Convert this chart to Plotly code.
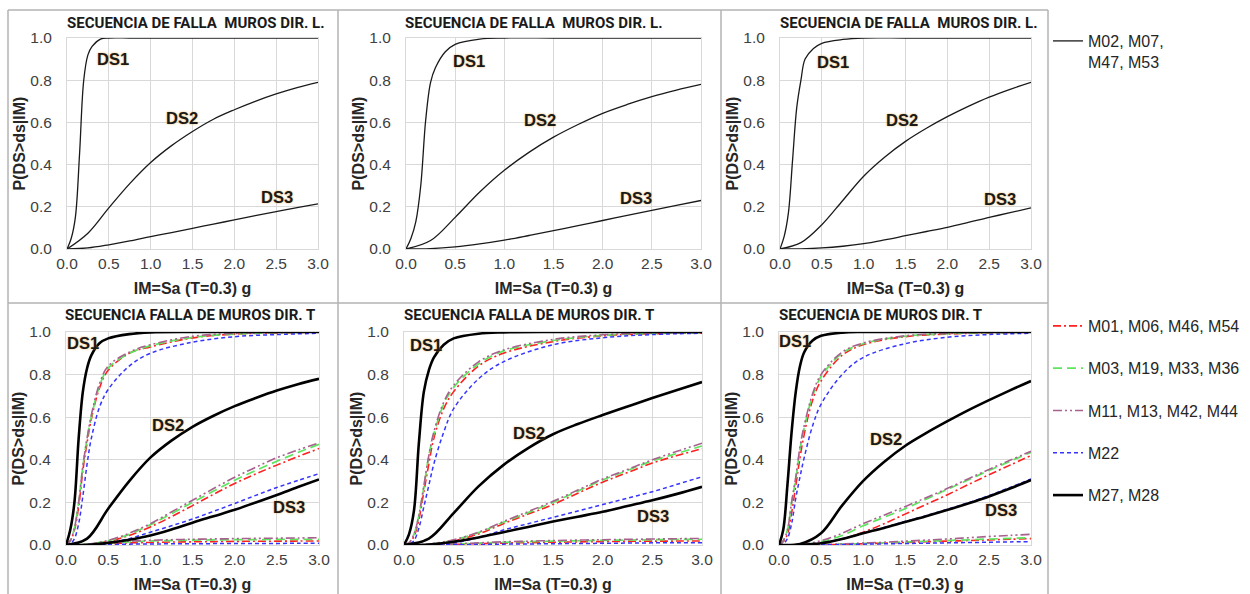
import plotly.graph_objects as go

W, H = 1250, 594

# ---------------- data ----------------
X_DS1 = [0, 0.05, 0.1, 0.15, 0.2, 0.25, 0.3, 0.4, 0.5, 0.75, 1.0, 1.5, 2.0, 2.5, 3.0]
X_DS = [0, 0.25, 0.5, 0.75, 1.0, 1.25, 1.5, 1.75, 2.0, 2.25, 2.5, 2.75, 3.0]
X_TICKS = [0, 0.5, 1.0, 1.5, 2.0, 2.5, 3.0]
X_TICKTEXT = ["0.0", "0.5", "1.0", "1.5", "2.0", "2.5", "3.0"]
Y_TICKS = [0, 0.2, 0.4, 0.6, 0.8, 1.0]
Y_TICKTEXT = ["0.0", "0.2", "0.4", "0.6", "0.8", "1.0"]

TITLES = [
    "SECUENCIA DE FALLA\u00a0 MUROS DIR. L.",
    "SECUENCIA DE FALLA\u00a0 MUROS DIR. L.",
    "SECUENCIA DE FALLA\u00a0 MUROS DIR. L.",
    "SECUENCIA FALLA DE MUROS DIR. T",
    "SECUENCIA FALLA DE MUROS DIR. T",
    "SECUENCIA DE MUROS DIR. T",
]
DS_NAMES = ["DS1", "DS2", "DS3"]
X_TITLE = "IM=Sa (T=0.3) g"
Y_TITLE = "P(DS>ds|IM)"

TOP_SERIES = "M02, M07,<br>M47, M53"
BOTTOM_SERIES = ["M01, M06, M46, M54", "M03, M19, M33, M36",
                 "M11, M13, M42, M44", "M22", "M27, M28"]

# top row (direction L): [DS1 on X_DS1, DS2 on X_DS, DS3 on X_DS]
L1 = [[0, 0.05, 0.15, 0.45, 0.80, 0.92, 0.96, 0.995, 1, 1, 1, 1, 1, 1, 1],
      [0, 0.075, 0.195, 0.31, 0.41, 0.49, 0.557, 0.615, 0.66, 0.70, 0.735, 0.765, 0.79],
      [0, 0.005, 0.02, 0.038, 0.059, 0.078, 0.098, 0.118, 0.138, 0.158, 0.177, 0.196, 0.214]]
L2 = [[0, 0.05, 0.13, 0.30, 0.61, 0.79, 0.86, 0.935, 0.97, 0.995, 1, 1, 1, 1, 1],
      [0, 0.04, 0.15, 0.27, 0.373, 0.458, 0.53, 0.59, 0.643, 0.685, 0.722, 0.753, 0.78],
      [0, 0.002, 0.01, 0.024, 0.042, 0.064, 0.087, 0.111, 0.135, 0.159, 0.183, 0.207, 0.23]]
L3 = [[0, 0.06, 0.17, 0.42, 0.67, 0.80, 0.90, 0.95, 0.975, 0.993, 1, 1, 1, 1, 1],
      [0, 0.03, 0.115, 0.23, 0.345, 0.435, 0.51, 0.572, 0.627, 0.676, 0.72, 0.757, 0.79],
      [0, 0.001, 0.005, 0.013, 0.025, 0.043, 0.063, 0.083, 0.103, 0.126, 0.15, 0.172, 0.195]]

# bottom row (direction T): per series [upper on X_DS1, middle on X_DS, lower on X_DS]
T1_M01 = [[0, 0.02, 0.07, 0.18, 0.35, 0.48, 0.59, 0.74, 0.82, 0.90, 0.93, 0.972, 0.99, 0.996, 0.999],
          [0, 0.002, 0.017, 0.045, 0.085, 0.133, 0.185, 0.238, 0.289, 0.334, 0.375, 0.415, 0.453],
          [0, 0.001, 0.006, 0.01, 0.012, 0.014, 0.015, 0.016, 0.017, 0.0175, 0.018, 0.0185, 0.019]]
T1_M03 = [[0, 0.02, 0.08, 0.20, 0.37, 0.50, 0.60, 0.75, 0.83, 0.90, 0.935, 0.975, 0.99, 0.997, 1.0],
          [0, 0.003, 0.02, 0.05, 0.095, 0.147, 0.20, 0.253, 0.304, 0.35, 0.393, 0.434, 0.473],
          [0, 0.002, 0.009, 0.015, 0.019, 0.021, 0.023, 0.024, 0.025, 0.0255, 0.026, 0.0265, 0.027]]
T1_M11 = [[0, 0.02, 0.08, 0.20, 0.37, 0.50, 0.61, 0.76, 0.84, 0.905, 0.94, 0.98, 0.993, 0.998, 1.0],
          [0, 0.003, 0.022, 0.055, 0.10, 0.155, 0.21, 0.265, 0.318, 0.365, 0.41, 0.446, 0.48],
          [0, 0.002, 0.01, 0.018, 0.022, 0.025, 0.027, 0.0285, 0.03, 0.031, 0.032, 0.033, 0.034]]
T1_M22 = [[0, 0.005, 0.03, 0.10, 0.23, 0.38, 0.50, 0.65, 0.73, 0.84, 0.90, 0.952, 0.978, 0.988, 0.994],
          [0, 0.001, 0.01, 0.03, 0.06, 0.09, 0.122, 0.158, 0.195, 0.233, 0.27, 0.303, 0.335],
          [0, 0, 0.002, 0.004, 0.005, 0.0055, 0.006, 0.0065, 0.007, 0.0072, 0.0075, 0.0078, 0.008]]
T1_M27 = [[0, 0.07, 0.20, 0.50, 0.72, 0.83, 0.89, 0.948, 0.97, 0.99, 0.998, 1, 1, 1, 1],
          [0, 0.03, 0.17, 0.30, 0.41, 0.49, 0.555, 0.607, 0.652, 0.69, 0.725, 0.755, 0.78],
          [0, 0.001, 0.01, 0.025, 0.045, 0.073, 0.105, 0.135, 0.165, 0.20, 0.235, 0.272, 0.308]]

T2_M01 = [[0, 0.01, 0.04, 0.12, 0.25, 0.38, 0.50, 0.64, 0.72, 0.84, 0.90, 0.955, 0.982, 0.992, 0.996],
          [0, 0.002, 0.02, 0.052, 0.10, 0.145, 0.19, 0.243, 0.295, 0.34, 0.385, 0.42, 0.452],
          [0, 0.001, 0.003, 0.006, 0.009, 0.011, 0.013, 0.0145, 0.016, 0.017, 0.018, 0.0185, 0.019]]
T2_M03 = [[0, 0.01, 0.05, 0.14, 0.27, 0.42, 0.52, 0.66, 0.74, 0.85, 0.91, 0.96, 0.984, 0.993, 0.997],
          [0, 0.003, 0.023, 0.058, 0.107, 0.152, 0.20, 0.253, 0.305, 0.35, 0.395, 0.43, 0.465],
          [0, 0.001, 0.004, 0.009, 0.013, 0.016, 0.018, 0.02, 0.022, 0.0235, 0.025, 0.026, 0.027]]
T2_M11 = [[0, 0.01, 0.05, 0.14, 0.28, 0.42, 0.53, 0.67, 0.75, 0.86, 0.915, 0.965, 0.987, 0.995, 0.998],
          [0, 0.004, 0.025, 0.06, 0.11, 0.157, 0.205, 0.258, 0.31, 0.355, 0.40, 0.44, 0.478],
          [0, 0.001, 0.005, 0.01, 0.015, 0.018, 0.021, 0.023, 0.025, 0.0265, 0.028, 0.0295, 0.031]]
T2_M22 = [[0, 0.003, 0.02, 0.08, 0.18, 0.28, 0.38, 0.53, 0.64, 0.78, 0.86, 0.94, 0.973, 0.988, 0.994],
          [0, 0.001, 0.01, 0.035, 0.07, 0.10, 0.13, 0.16, 0.19, 0.22, 0.25, 0.285, 0.32],
          [0, 0, 0.001, 0.002, 0.004, 0.005, 0.006, 0.007, 0.008, 0.009, 0.01, 0.0105, 0.011]]
T2_M27 = [[0, 0.05, 0.16, 0.48, 0.72, 0.82, 0.88, 0.94, 0.97, 0.992, 0.998, 1, 1, 1, 1],
          [0, 0.03, 0.15, 0.275, 0.375, 0.455, 0.52, 0.568, 0.61, 0.65, 0.69, 0.728, 0.765],
          [0, 0.002, 0.015, 0.035, 0.06, 0.085, 0.11, 0.133, 0.156, 0.183, 0.21, 0.24, 0.273]]

T3_M01 = [[0, 0.015, 0.05, 0.15, 0.28, 0.41, 0.52, 0.68, 0.77, 0.89, 0.94, 0.978, 0.99, 0.996, 0.999],
          [0, 0.001, 0.008, 0.028, 0.06, 0.10, 0.145, 0.19, 0.235, 0.283, 0.33, 0.375, 0.42],
          [0, 0, 0.001, 0.003, 0.006, 0.009, 0.012, 0.015, 0.018, 0.021, 0.024, 0.027, 0.03]]
T3_M03 = [[0, 0.02, 0.07, 0.20, 0.31, 0.45, 0.55, 0.70, 0.79, 0.90, 0.945, 0.98, 0.992, 0.997, 0.999],
          [0, 0.002, 0.015, 0.045, 0.09, 0.13, 0.17, 0.215, 0.26, 0.305, 0.35, 0.393, 0.435],
          [0, 0, 0.002, 0.004, 0.007, 0.01, 0.014, 0.0175, 0.021, 0.0245, 0.028, 0.031, 0.034]]
T3_M11 = [[0, 0.02, 0.07, 0.20, 0.32, 0.46, 0.56, 0.71, 0.80, 0.905, 0.948, 0.982, 0.993, 0.998, 1.0],
          [0, 0.003, 0.02, 0.055, 0.10, 0.14, 0.18, 0.222, 0.265, 0.31, 0.355, 0.398, 0.44],
          [0, 0, 0.002, 0.005, 0.009, 0.013, 0.018, 0.023, 0.028, 0.034, 0.04, 0.045, 0.05]]
T3_M22 = [[0, 0.005, 0.03, 0.10, 0.22, 0.32, 0.41, 0.56, 0.66, 0.80, 0.88, 0.945, 0.975, 0.988, 0.994],
          [0, 0.001, 0.009, 0.029, 0.056, 0.082, 0.11, 0.138, 0.167, 0.198, 0.232, 0.27, 0.31],
          [0, 0, 0.001, 0.002, 0.004, 0.0055, 0.007, 0.0085, 0.01, 0.0115, 0.013, 0.0145, 0.016]]
T3_M27 = [[0, 0.07, 0.28, 0.53, 0.72, 0.84, 0.905, 0.96, 0.982, 0.997, 1, 1, 1, 1, 1],
          [0, 0.005, 0.055, 0.185, 0.30, 0.39, 0.465, 0.525, 0.58, 0.632, 0.68, 0.726, 0.77],
          [0, 0.001, 0.008, 0.028, 0.055, 0.08, 0.108, 0.135, 0.164, 0.195, 0.228, 0.265, 0.305]]

# DS label positions (data coords) per panel
DS_POS = [
    [(0.55, 0.90), (1.37, 0.62), (2.51, 0.246)],
    [(0.64, 0.89), (1.36, 0.61), (2.34, 0.24)],
    [(0.63, 0.886), (1.46, 0.61), (2.63, 0.237)],
    [(0.20, 0.95), (1.21, 0.563), (2.64, 0.178)],
    [(0.22, 0.94), (1.26, 0.526), (2.51, 0.136)],
    [(0.19, 0.96), (1.27, 0.50), (2.64, 0.165)],
]

# ---------------- layout geometry (pixels) ----------------
PANELS = [(67, 318, 38, 249), (406, 701, 38, 249), (780, 1031, 38, 249),
          (66, 319, 332, 545), (404, 702, 332, 545), (779, 1031, 332, 545)]
TITLE_LEFT = [65, 403, 778, 63, 402, 777]
TITLE_Y = [23, 23, 23, 315, 315, 315]

SANS = "Liberation Sans, Arial, sans-serif"
TICK_FONT = dict(family=SANS, size=15.5, color="#404040")
TITLE_FONT = "Roboto, Liberation Sans, sans-serif"

STYLES = [
    dict(color="#FF2020", width=1.6, dash="8px,3px,2px,3px"),
    dict(color="#5CE65C", width=1.7, dash="9px,5px"),
    dict(color="#A8608F", width=1.6, dash="9px,3px,2px,3px,2px,3px"),
    dict(color="#3535FF", width=1.5, dash="4px,3px"),
    dict(color="#000000", width=2.6, dash="solid"),
]

fig = go.Figure()

# top panels
for p, curves in enumerate([L1, L2, L3], start=1):
    for k, ys in enumerate(curves):
        xs = X_DS1 if k == 0 else X_DS
        fig.add_trace(go.Scatter(
            x=xs, y=ys, mode="lines", line=dict(color="#1a1a1a", width=1.3, shape="spline", smoothing=1.0),
            name=TOP_SERIES, legendgroup="top", legend="legend",
            showlegend=(p == 1 and k == 0), xaxis=f"x{p}", yaxis=f"y{p}", hoverinfo="skip"))

# bottom panels
BOTTOM = [
    [T1_M01, T2_M01, T3_M01],
    [T1_M03, T2_M03, T3_M03],
    [T1_M11, T2_M11, T3_M11],
    [T1_M22, T2_M22, T3_M22],
    [T1_M27, T2_M27, T3_M27],
]
for s, (name, panels_data, st) in enumerate(zip(BOTTOM_SERIES, BOTTOM, STYLES)):
    for j, curves in enumerate(panels_data):
        p = 4 + j
        for k, ys in enumerate(curves):
            xs = X_DS1 if k == 0 else X_DS
            fig.add_trace(go.Scatter(
                x=xs, y=ys, mode="lines",
                line=dict(color=st["color"], width=st["width"], dash=st["dash"], shape="spline", smoothing=1.0),
                name=name, legendgroup=f"g{s}", legend="legend2",
                showlegend=(j == 0 and k == 0), xaxis=f"x{p}", yaxis=f"y{p}", hoverinfo="skip"))

layout = dict(
    width=W, height=H, margin=dict(l=0, r=0, t=0, b=0, autoexpand=False),
    paper_bgcolor="white", plot_bgcolor="white",
    showlegend=True,
    legend=dict(x=1048 / W, y=1 - 24 / H, xanchor="left", yanchor="top",
                font=dict(family=SANS, size=16, color="#262626"),
                bgcolor="rgba(0,0,0,0)", itemwidth=30, valign="top"),
    legend2=dict(x=1048 / W, y=1 - 309 / H, xanchor="left", yanchor="top",
                 font=dict(family=SANS, size=16, color="#262626"),
                 bgcolor="rgba(0,0,0,0)", itemwidth=30, tracegroupgap=18.5, traceorder="grouped"),
)

annotations = []
for i, (x0, x1, y0, y1) in enumerate(PANELS, start=1):
    sfx = "" if i == 1 else str(i)
    layout[f"xaxis{sfx}"] = dict(
        domain=[x0 / W, x1 / W], range=[0, 3], anchor=f"y{i}", automargin=False,
        tickmode="array", tickvals=X_TICKS, ticktext=X_TICKTEXT,
        showgrid=True, gridcolor="#d9d9d9", gridwidth=1,
        showline=True, mirror=True, linecolor="#d9d9d9", linewidth=1,
        zeroline=False, ticks="", tickfont=TICK_FONT, ticklabelstandoff=0,
        title=dict(text=f"<b>{X_TITLE}</b>", font=dict(family=SANS, size=16, color="#262626"), standoff=12),
    )
    layout[f"yaxis{sfx}"] = dict(
        domain=[1 - y1 / H, 1 - y0 / H], range=[0, 1], anchor=f"x{i}", automargin=False,
        tickmode="array", tickvals=Y_TICKS, ticktext=Y_TICKTEXT,
        showgrid=True, gridcolor="#d9d9d9", gridwidth=1,
        showline=True, mirror=True, linecolor="#d9d9d9", linewidth=1,
        zeroline=False, ticks="", tickfont=TICK_FONT, ticklabelstandoff=11,
        title=dict(text=f"<b>{Y_TITLE}</b>", font=dict(family=SANS, size=16, color="#262626"), standoff=0),
    )
    annotations.append(dict(
        text=f"<b>{TITLES[i-1]}</b>", xref="paper", yref="paper",
        x=TITLE_LEFT[i - 1] / W, y=1 - TITLE_Y[i - 1] / H, xanchor="left", yanchor="middle",
        showarrow=False, font=dict(family=TITLE_FONT, size=15, color="#1a1a1a")))
    for name, (ax, ay) in zip(DS_NAMES, DS_POS[i - 1]):
        annotations.append(dict(
            text=f"<b>{name}</b>", xref=f"x{i}", yref=f"y{i}", x=ax, y=ay,
            xanchor="center", yanchor="middle", showarrow=False,
            font=dict(family=SANS, size=16.5, color="#1a1a1a",
                      shadow="0px 0px 2px rgba(235,160,50,0.9)")))

layout["annotations"] = annotations

FRAME = "#b3b3b3"
shapes = []
for yy in (10, 303):
    shapes.append(dict(type="line", xref="paper", yref="paper", x0=8 / W, x1=1048 / W,
                       y0=1 - yy / H, y1=1 - yy / H, line=dict(color=FRAME, width=1.5)))
for xx in (8, 338, 721, 1048):
    shapes.append(dict(type="line", xref="paper", yref="paper", x0=xx / W, x1=xx / W,
                       y0=1 - 10 / H, y1=0, line=dict(color=FRAME, width=1.5)))
layout["shapes"] = shapes

fig.update_layout(**layout)
fig.write_html("out.html")
